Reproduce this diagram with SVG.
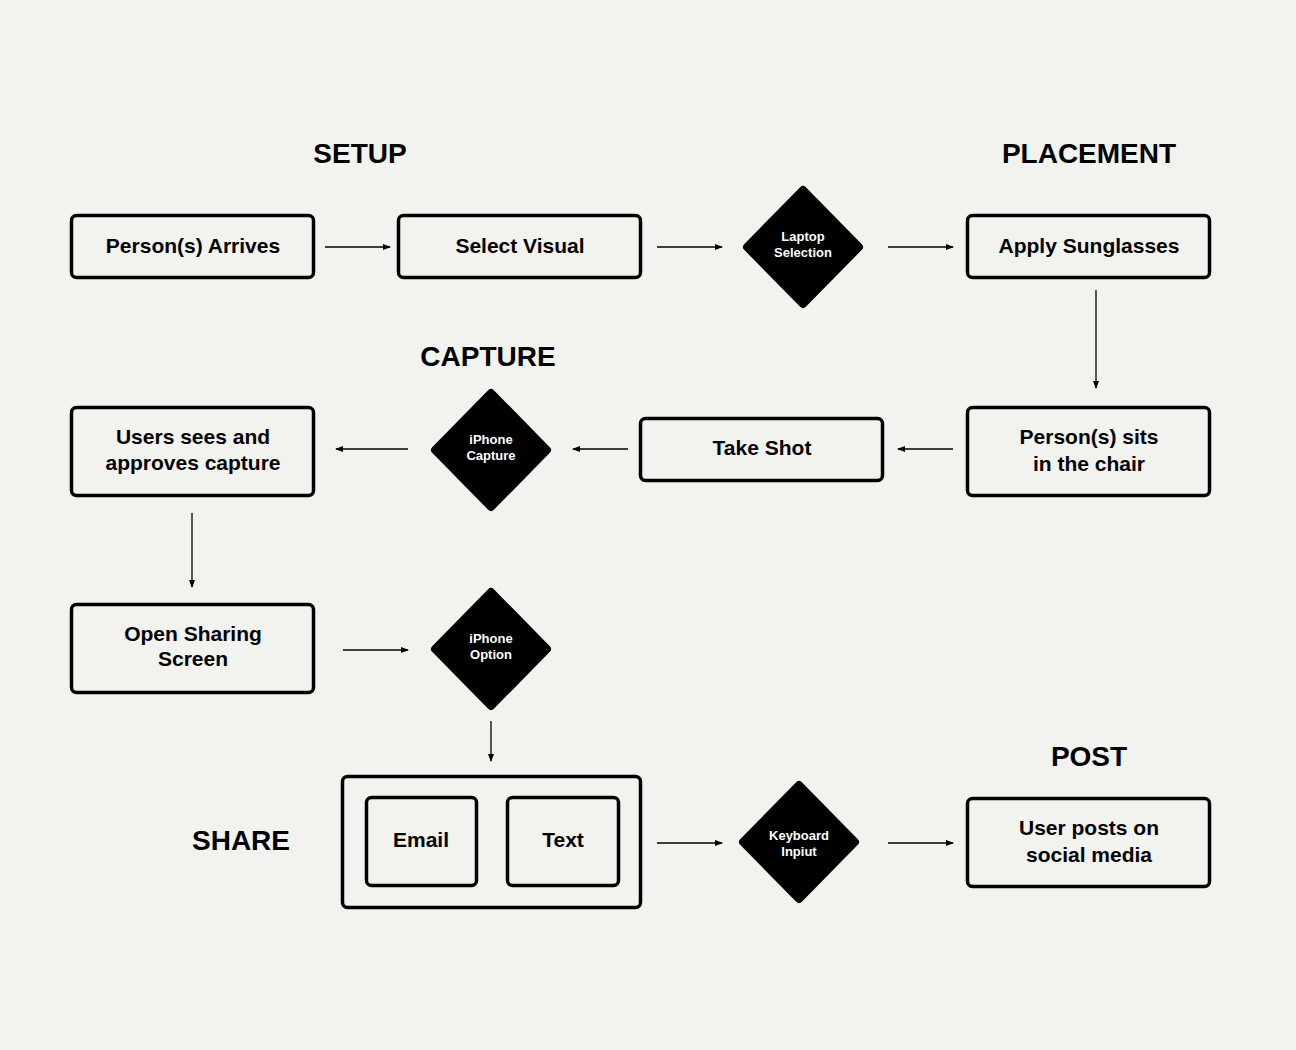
<svg xmlns="http://www.w3.org/2000/svg" width="1296" height="1050" viewBox="0 0 1296 1050">
<defs>
<style>
.box{fill:none;stroke:#000;stroke-width:3.5}
.dia{fill:#000;stroke:#000;stroke-width:8;stroke-linejoin:round}
.t{font-family:"Liberation Sans",Arial,sans-serif;font-weight:bold;font-size:21px;fill:#000;text-anchor:middle}
.d{font-family:"Liberation Sans",Arial,sans-serif;font-weight:bold;font-size:13px;fill:#fff;text-anchor:middle}
.h{font-family:"Liberation Sans",Arial,sans-serif;font-weight:bold;font-size:28px;fill:#000;text-anchor:middle}
.c{stroke:#000;stroke-width:1.3;fill:none;marker-end:url(#ah)}
</style>
<marker id="ah" markerWidth="8" markerHeight="6" refX="7" refY="3" orient="auto" markerUnits="userSpaceOnUse">
<path d="M0,0 L8,3 L0,6 Z" fill="#000"/>
</marker>
</defs>
<rect width="1296" height="1050" fill="#f2f2ee"/>
<g id="headings">
<text class="h" x="360" y="163">SETUP</text>
<text class="h" x="1089" y="163">PLACEMENT</text>
<text class="h" x="488" y="366">CAPTURE</text>
<text class="h" x="241" y="850">SHARE</text>
<text class="h" x="1089" y="766">POST</text>
</g>
<g id="connectors">
<line class="c" x1="325" y1="247" x2="390" y2="247"/>
<line class="c" x1="657" y1="247" x2="722" y2="247"/>
<line class="c" x1="888" y1="247" x2="953" y2="247"/>
<line class="c" x1="1096" y1="290" x2="1096" y2="388"/>
<line class="c" x1="953" y1="449" x2="898" y2="449"/>
<line class="c" x1="628" y1="449" x2="573" y2="449"/>
<line class="c" x1="408" y1="449" x2="336" y2="449"/>
<line class="c" x1="192" y1="513" x2="192" y2="587"/>
<line class="c" x1="343" y1="650" x2="408" y2="650"/>
<line class="c" x1="491" y1="721" x2="491" y2="761"/>
<line class="c" x1="657" y1="843" x2="722" y2="843"/>
<line class="c" x1="888" y1="843" x2="953" y2="843"/>
</g>
<g id="n-arrives"><rect class="box" x="71.5" y="215.5" width="242" height="62" rx="5"/><text class="t" x="193" y="253">Person(s) Arrives</text></g>
<g id="n-select"><rect class="box" x="398.5" y="215.5" width="242" height="62" rx="5"/><text class="t" x="520" y="253">Select Visual</text></g>
<g id="n-laptop"><polygon class="dia" points="803,190 859,247 803,304 747,247"/><text class="d" x="803" y="241">Laptop</text><text class="d" x="803" y="257">Selection</text></g>
<g id="n-sunglasses"><rect class="box" x="967.5" y="215.5" width="242" height="62" rx="5"/><text class="t" x="1089" y="253">Apply Sunglasses</text></g>
<g id="n-sits"><rect class="box" x="967.5" y="407.5" width="242" height="88" rx="5"/><text class="t" x="1089" y="444">Person(s) sits</text><text class="t" x="1089" y="471">in the chair</text></g>
<g id="n-shot"><rect class="box" x="640.5" y="418.5" width="242" height="62" rx="5"/><text class="t" x="762" y="455">Take Shot</text></g>
<g id="n-capture"><polygon class="dia" points="491,393 547,450 491,507 435,450"/><text class="d" x="491" y="444">iPhone</text><text class="d" x="491" y="460">Capture</text></g>
<g id="n-approves"><rect class="box" x="71.5" y="407.5" width="242" height="88" rx="5"/><text class="t" x="193" y="444">Users sees and</text><text class="t" x="193" y="470">approves capture</text></g>
<g id="n-sharing"><rect class="box" x="71.5" y="604.5" width="242" height="88" rx="5"/><text class="t" x="193" y="641">Open Sharing</text><text class="t" x="193" y="666">Screen</text></g>
<g id="n-option"><polygon class="dia" points="491,592 547,649 491,706 435,649"/><text class="d" x="491" y="643">iPhone</text><text class="d" x="491" y="659">Option</text></g>
<g id="n-share"><rect class="box" x="342.5" y="776.5" width="298" height="131" rx="5"/>
<rect class="box" x="366.5" y="797.5" width="110" height="88" rx="5"/><text class="t" x="421" y="847">Email</text>
<rect class="box" x="507.5" y="797.5" width="111" height="88" rx="5"/><text class="t" x="563" y="847">Text</text></g>
<g id="n-keyboard"><polygon class="dia" points="799,785 855,842 799,899 743,842"/><text class="d" x="799" y="840">Keyboard</text><text class="d" x="799" y="856">Inpiut</text></g>
<g id="n-post"><rect class="box" x="967.5" y="798.5" width="242" height="88" rx="5"/><text class="t" x="1089" y="835">User posts on</text><text class="t" x="1089" y="862">social media</text></g>
</svg>
